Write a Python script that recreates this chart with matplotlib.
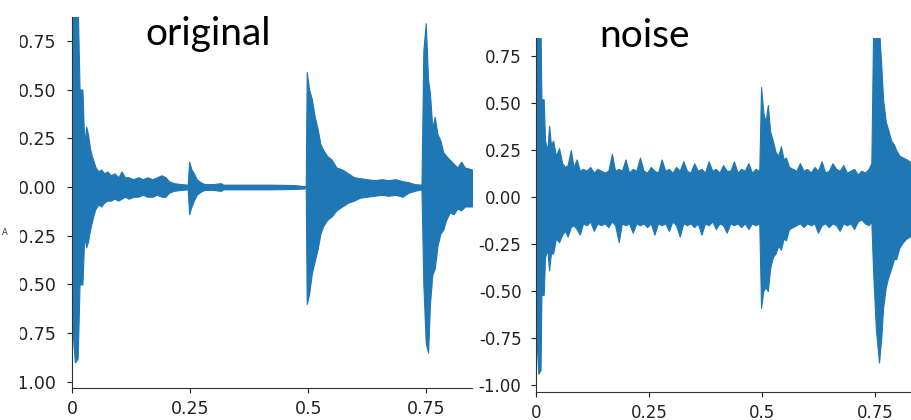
import numpy as np
import matplotlib
matplotlib.use("Agg")
import matplotlib.pyplot as plt
from matplotlib.patches import Rectangle

plt.rcParams['axes.unicode_minus'] = False

BLUE = '#1f77b4'

# envelope of the "original" waveform (time in s, upper / lower amplitude)
orig_t = [0.000, 0.006, 0.012, 0.016, 0.022, 0.026, 0.030, 0.034, 0.038, 0.042,
          0.046, 0.050, 0.056, 0.062, 0.068, 0.075, 0.082, 0.090, 0.098, 0.105,
          0.112, 0.120, 0.130, 0.140, 0.150, 0.160, 0.170, 0.180, 0.190, 0.198,
          0.205, 0.215, 0.230, 0.245, 0.248, 0.253, 0.258, 0.264, 0.272, 0.280,
          0.300, 0.315, 0.320, 0.360, 0.420, 0.470, 0.490, 0.495, 0.497, 0.502,
          0.508, 0.514, 0.520, 0.526, 0.532, 0.540, 0.550, 0.560, 0.572, 0.585,
          0.597, 0.610, 0.625, 0.640, 0.656, 0.670, 0.685, 0.700, 0.712, 0.725,
          0.740, 0.744, 0.749, 0.754, 0.758, 0.763, 0.768, 0.774, 0.780, 0.786,
          0.792, 0.800, 0.808, 0.816, 0.824, 0.832, 0.847]
orig_up = [0.95, 0.95, 0.95, 0.50, 0.50, 0.22, 0.31, 0.27, 0.20, 0.16,
           0.13, 0.10, 0.08, 0.09, 0.07, 0.08, 0.06, 0.07, 0.05, 0.08,
           0.05, 0.05, 0.04, 0.05, 0.04, 0.05, 0.04, 0.05, 0.06, 0.05,
           0.03, 0.02, 0.015, 0.012, 0.13, 0.09, 0.07, 0.04, 0.025, 0.015,
           0.015, 0.02, 0.012, 0.012, 0.012, 0.010, 0.005, 0.005, 0.59, 0.50,
           0.45, 0.36, 0.30, 0.22, 0.19, 0.16, 0.14, 0.10, 0.09, 0.07,
           0.05, 0.045, 0.04, 0.035, 0.04, 0.035, 0.04, 0.03, 0.025, 0.015,
           0.012, 0.70, 0.84, 0.55, 0.48, 0.30, 0.36, 0.27, 0.24, 0.18,
           0.16, 0.14, 0.12, 0.10, 0.13, 0.10, 0.09]
orig_lo = [-0.70, -0.90, -0.88, -0.50, -0.50, -0.25, -0.31, -0.28, -0.22, -0.18,
           -0.14, -0.11, -0.09, -0.10, -0.08, -0.07, -0.07, -0.06, -0.07, -0.06,
           -0.05, -0.06, -0.05, -0.05, -0.04, -0.05, -0.05, -0.04, -0.05, -0.05,
           -0.03, -0.02, -0.015, -0.012, -0.14, -0.10, -0.07, -0.04, -0.025, -0.015,
           -0.015, -0.02, -0.012, -0.012, -0.012, -0.010, -0.008, -0.005, -0.60, -0.55,
           -0.44, -0.38, -0.32, -0.24, -0.20, -0.17, -0.15, -0.12, -0.10, -0.08,
           -0.07, -0.055, -0.05, -0.045, -0.04, -0.045, -0.04, -0.05, -0.03, -0.02,
           -0.012, -0.50, -0.80, -0.85, -0.60, -0.45, -0.42, -0.30, -0.24, -0.22,
           -0.17, -0.13, -0.14, -0.11, -0.12, -0.10, -0.10]

# envelope of the "noise" waveform
noise_t = [0.000, 0.005, 0.010, 0.012, 0.017, 0.020, 0.025, 0.029, 0.033, 0.038,
           0.044, 0.051, 0.058, 0.064, 0.070, 0.077, 0.083, 0.090, 0.097, 0.104,
           0.112, 0.120, 0.128, 0.136, 0.144, 0.152, 0.160, 0.168, 0.175, 0.183,
           0.190, 0.198, 0.206, 0.214, 0.222, 0.230, 0.238, 0.246, 0.254, 0.262,
           0.270, 0.278, 0.286, 0.294, 0.302, 0.310, 0.318, 0.326, 0.334, 0.342,
           0.350, 0.358, 0.366, 0.374, 0.382, 0.390, 0.398, 0.406, 0.414, 0.422,
           0.430, 0.438, 0.446, 0.454, 0.462, 0.470, 0.478, 0.486, 0.494, 0.498,
           0.503, 0.508, 0.513, 0.518, 0.524, 0.530, 0.536, 0.542, 0.548, 0.553,
           0.560, 0.568, 0.576, 0.584, 0.592, 0.600, 0.608, 0.616, 0.624, 0.632,
           0.640, 0.648, 0.656, 0.664, 0.672, 0.680, 0.688, 0.696, 0.704, 0.712,
           0.720, 0.728, 0.736, 0.742, 0.746, 0.752, 0.759, 0.764, 0.768, 0.774,
           0.779, 0.786, 0.792, 0.797, 0.804, 0.812, 0.820, 0.834]
noise_up = [0.90, 0.90, 0.90, 0.52, 0.52, 0.30, 0.25, 0.38, 0.28, 0.30,
            0.22, 0.26, 0.18, 0.16, 0.17, 0.25, 0.16, 0.20, 0.14, 0.15,
            0.14, 0.16, 0.13, 0.15, 0.14, 0.13, 0.14, 0.23, 0.14, 0.15,
            0.14, 0.20, 0.13, 0.15, 0.14, 0.21, 0.14, 0.13, 0.16, 0.14,
            0.13, 0.20, 0.14, 0.15, 0.13, 0.16, 0.14, 0.19, 0.14, 0.13,
            0.18, 0.14, 0.15, 0.13, 0.19, 0.14, 0.15, 0.13, 0.17, 0.14,
            0.14, 0.19, 0.13, 0.15, 0.14, 0.18, 0.13, 0.15, 0.14, 0.585,
            0.45, 0.40, 0.49, 0.35, 0.30, 0.24, 0.22, 0.27, 0.20, 0.21,
            0.16, 0.15, 0.14, 0.18, 0.14, 0.15, 0.13, 0.16, 0.14, 0.19,
            0.13, 0.14, 0.18, 0.15, 0.14, 0.17, 0.13, 0.14, 0.15, 0.12,
            0.14, 0.13, 0.15, 0.18, 0.90, 0.90, 0.90, 0.70, 0.52, 0.40,
            0.36, 0.30, 0.28, 0.25, 0.22, 0.21, 0.20, 0.18]
noise_lo = [-0.70, -0.94, -0.92, -0.52, -0.52, -0.32, -0.28, -0.39, -0.30, -0.30,
            -0.22, -0.24, -0.20, -0.18, -0.21, -0.16, -0.15, -0.17, -0.20, -0.14,
            -0.15, -0.13, -0.18, -0.14, -0.15, -0.14, -0.16, -0.13, -0.15, -0.24,
            -0.14, -0.15, -0.14, -0.19, -0.14, -0.15, -0.14, -0.16, -0.14, -0.20,
            -0.14, -0.15, -0.14, -0.18, -0.13, -0.15, -0.21, -0.14, -0.15, -0.14,
            -0.16, -0.14, -0.20, -0.14, -0.15, -0.13, -0.17, -0.14, -0.15, -0.19,
            -0.14, -0.15, -0.14, -0.16, -0.14, -0.17, -0.14, -0.15, -0.14, -0.59,
            -0.50, -0.48, -0.50, -0.38, -0.32, -0.30, -0.26, -0.28, -0.22, -0.23,
            -0.17, -0.16, -0.15, -0.14, -0.16, -0.14, -0.15, -0.14, -0.19, -0.15,
            -0.14, -0.16, -0.14, -0.15, -0.18, -0.14, -0.15, -0.14, -0.17, -0.13,
            -0.12, -0.14, -0.15, -0.13, -0.40, -0.70, -0.88, -0.75, -0.59, -0.48,
            -0.43, -0.38, -0.33, -0.33, -0.27, -0.24, -0.22, -0.20]

x_ticks = [0, 0.25, 0.5, 0.75]
x_labels = ['0', '0.25', '0.5', '0.75']
y_ticks = [-1.0, -0.75, -0.5, -0.25, 0.0, 0.25, 0.5, 0.75]


def draw_wave(ax, t, up, lo, xlim, ylim, fontsize):
    ax.fill_between(t, lo, up, color=BLUE, linewidth=0.8, edgecolor=BLUE)
    ax.set_xlim(*xlim)
    ax.set_ylim(*ylim)
    ax.set_xticks(x_ticks)
    ax.set_xticklabels(x_labels)
    ax.set_yticks(y_ticks)
    ax.set_yticklabels(['{:.2f}'.format(v) for v in y_ticks])
    ax.tick_params(labelsize=fontsize, colors='#222222')
    ax.tick_params(axis='x', pad=5)
    for pos in ['right', 'top']:
        ax.spines[pos].set_visible(False)
    for pos in ['left', 'bottom']:
        ax.spines[pos].set_color('#333333')


fig = plt.figure(figsize=(9.12, 4.2), dpi=100)

ax1 = fig.add_axes([72 / 912, 32 / 420, 400 / 912, 371 / 420])
draw_wave(ax1, orig_t, orig_up, orig_lo, (0, 0.847), (-1.031, 0.872), 12.5)
ax1.tick_params(axis='y', pad=8)

ax2 = fig.add_axes([536 / 912, 28 / 420, 376 / 912, 354 / 420])
draw_wave(ax2, noise_t, noise_up, noise_lo, (0, 0.832), (-1.037, 0.846), 12)
ax2.tick_params(axis='y', pad=7)

# the left panel is cropped a little before its tick labels end
fig.patches.append(Rectangle((0, 0), 20 / 912, 1, transform=fig.transFigure,
                             facecolor='white', edgecolor='none', zorder=5))

fig.text(2 / 912, 0.44, 'A', fontsize=6, color='#333333', zorder=6)
fig.text(208 / 912, 375 / 420, 'original', fontsize=28, family='Lato',
         ha='center', va='baseline')
fig.text(645 / 912, 373 / 420, 'noise', fontsize=28, family='Lato',
         ha='center', va='baseline')

fig.savefig('out.png', dpi=100)
